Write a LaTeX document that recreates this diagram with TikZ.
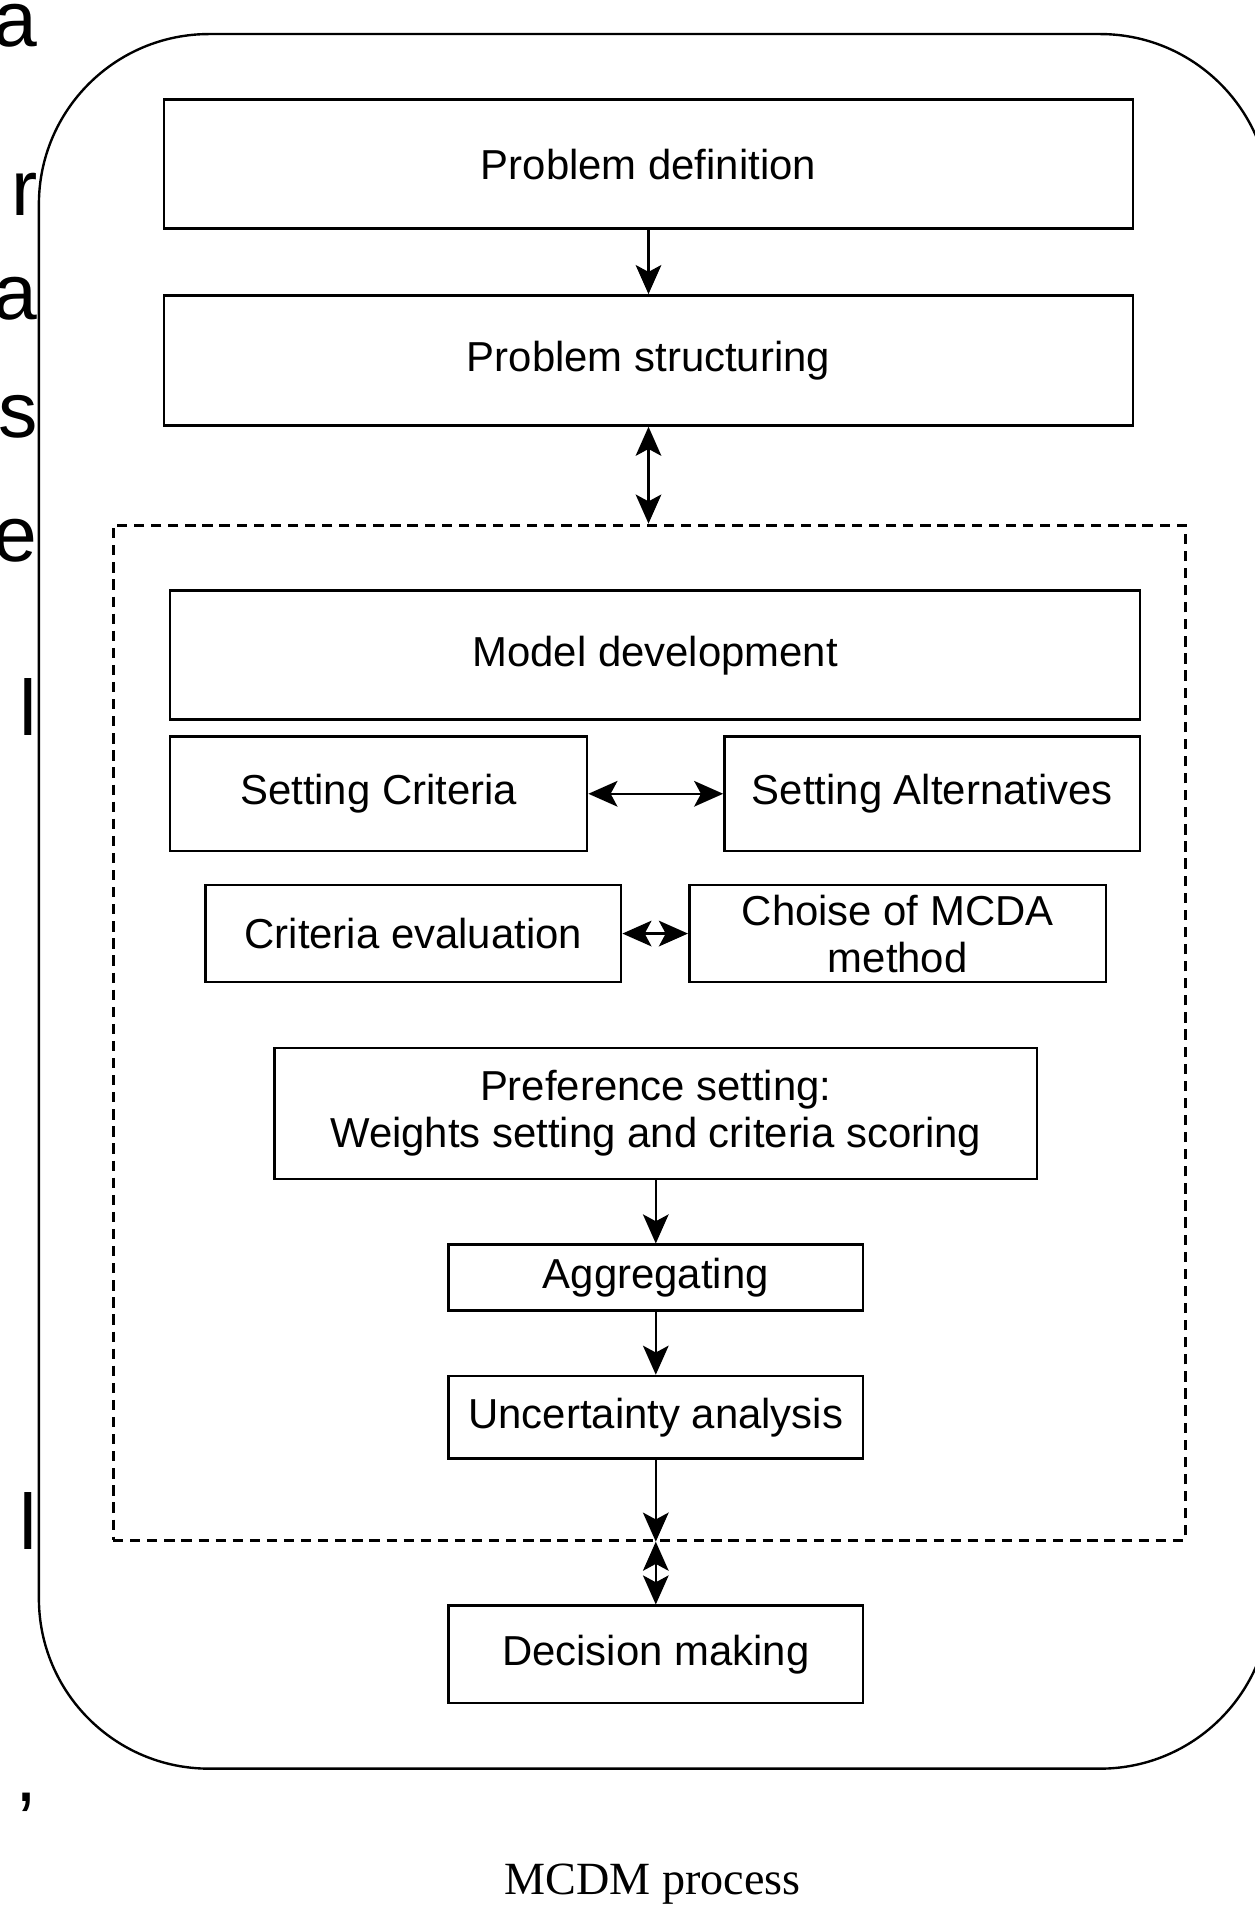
\documentclass[tikz,border=0pt]{standalone}
\usepackage{fontspec}
\setmainfont{Liberation Sans}
\newfontfamily\capfont{Liberation Serif}
\usetikzlibrary{arrows.meta}

\begin{document}
\begin{tikzpicture}[x=0.025cm, y=-0.025cm]
\tikzstyle{every node} = [font=\fontsize{24.5}{27.5}\selectfont, align=center, inner sep=0pt]
\tikzstyle{box} = [draw, line width=1.5pt]
\tikzstyle{cut} = [anchor=base east, font=\fontsize{46}{50}\selectfont]
\tikzstyle{conn} = [line width=1.4pt, arrows={-Stealth[length=17pt,width=15pt,inset=4pt]}]
\tikzstyle{dconn} = [line width=1.4pt, arrows={Stealth[length=17pt,width=15pt,inset=4pt]-Stealth[length=17pt,width=15pt,inset=4pt]}]
\useasboundingbox (0,0) rectangle (1032,1568);

% letters of the page text, cut at the left
\foreach \ch/\yy [count=\i] in {a/38, r/177, a/263, s/360, e/462, l/605, l/1275, {,}/1482, ./1580}
\node[cut] (t\i) at (31,\yy) {\ch};

\node[draw, line width=1.4pt, rounded corners=3.5cm, minimum width=1013*0.025cm, minimum height=1427*0.025cm] (outer) at (538.5,741.5) {};
\node[draw, line width=1.8pt, dash pattern=on 6pt off 4pt, minimum width=882*0.025cm, minimum height=835*0.025cm] (frame) at (534,849.5) {};

\node[box, minimum width=797*0.025cm, minimum height=106*0.025cm] (pdef) at (533.5,135) {Problem definition};
\node[box, minimum width=797*0.025cm, minimum height=107*0.025cm] (pstruct) at (533.5,296.5) {Problem structuring};
\node[box, minimum width=798*0.025cm, minimum height=106*0.025cm] (model) at (539,539) {Model development};
\node[box, minimum width=343*0.025cm, minimum height=94*0.025cm] (crit) at (311.5,653) {Setting Criteria};
\node[box, minimum width=342*0.025cm, minimum height=94*0.025cm] (alt) at (767,653) {Setting Alternatives};
\node[box, minimum width=342*0.025cm, minimum height=80*0.025cm] (eval) at (340,768) {Criteria evaluation};
\node[box, minimum width=343*0.025cm, minimum height=80*0.025cm] (choice) at (738.5,768) {Choise of MCDA\\method};
\node[box, minimum width=627*0.025cm, minimum height=108*0.025cm] (pref) at (539.5,916) {Preference setting:\\Weights setting and criteria scoring};
\node[box, minimum width=341*0.025cm, minimum height=54*0.025cm] (aggr) at (539.5,1051) {Aggregating};
\node[box, minimum width=341*0.025cm, minimum height=68*0.025cm] (unc) at (539.5,1166) {Uncertainty analysis};
\node[box, minimum width=341*0.025cm, minimum height=80*0.025cm] (dec) at (539.5,1361) {Decision making};

\node[font=\capfont\fontsize{27}{30}\selectfont] (cap) at (537,1550) {MCDM process};

\coordinate (ftop) at (pstruct.south |- frame.north);
\coordinate (fbot) at (unc.south |- frame.south);

\foreach \from/\to in {pdef/pstruct, pref/aggr, aggr/unc, unc/fbot}
\draw [conn] (\from) -- (\to);
\foreach \from/\to in {pstruct/ftop, crit/alt, eval/choice, fbot/dec}
\draw [dconn] (\from) -- (\to);
\end{tikzpicture}
\end{document}
